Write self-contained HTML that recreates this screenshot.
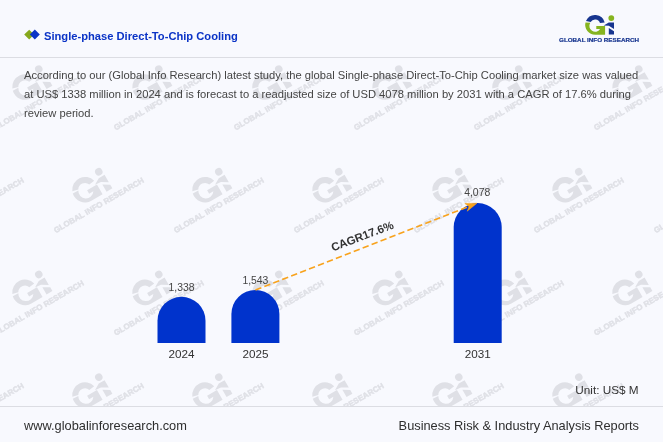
<!DOCTYPE html>
<html><head><meta charset="utf-8">
<style>
html,body{margin:0;padding:0;}
body{width:663px;height:442px;background:#f8f9fe;position:relative;overflow:hidden;font-family:"Liberation Sans",sans-serif;color:#333;}
.abs{position:absolute;white-space:nowrap;}
#title{left:44px;top:29px;font-size:11.16px;font-weight:bold;color:#0a33c6;line-height:14px;}
#para{left:24px;top:65.9px;width:625px;font-size:11.2px;line-height:19.04px;color:#444;white-space:normal;}
.hr{position:absolute;left:0;width:663px;height:1px;background:#dcdde3;}
#foot1{left:24px;top:419px;font-size:12.8px;line-height:14px;color:#2e2e2e;}
#foot2{right:24px;top:419px;font-size:12.8px;line-height:14px;color:#2e2e2e;}
svg text{font-family:"Liberation Sans",sans-serif;}
</style></head><body>
<svg class="abs" style="left:0;top:0" width="663" height="442" viewBox="0 0 663 442">
  <defs>
    <g id="wm"><path d="M -9.11 -3.87 A 9.9 9.9 0 0 1 9.61 -2.40 L 4.89 -1.78 A 5.2 5.2 0 0 0 -4.46 -2.68 Z" fill="#dfe0e6"/><path d="M -9.65 -2.23 A 9.9 9.9 0 0 0 0.00 9.90 L 10 9.9 L 10 1.2 L 1.2 1.2 L 1.2 4.3 L 5.0 4.3 A 5.2 5.2 0 0 1 -4.79 -2.03 Z" fill="#dfe0e6"/><circle cx="16.2" cy="-6.7" r="2.9" fill="#dfe0e6"/><path d="M 13.7 -2.4 L 18.9 -2.4 L 18.9 4.2 L 13.7 1.0 L 8.6 0.6 Z" fill="#dfe0e6"/><path d="M 13.7 3.2 L 18.9 6.4 L 18.9 9.7 L 13.7 9.7 Z" fill="#dfe0e6"/><text x="3.2" y="17.8" font-size="6.0" font-weight="bold" text-anchor="middle" textLength="79.5" lengthAdjust="spacingAndGlyphs" fill="#dfe0e6" stroke="#dfe0e6" stroke-width="0.3">GLOBAL INFO RESEARCH</text></g>
    <clipPath id="wmclip"><rect x="0" y="58" width="663" height="348"/></clipPath>
  </defs>
  <g clip-path="url(#wmclip)"><use href="#wm" transform="translate(25.0,87.0) rotate(-30) scale(1.29)"/><use href="#wm" transform="translate(145.0,87.0) rotate(-30) scale(1.29)"/><use href="#wm" transform="translate(265.0,87.0) rotate(-30) scale(1.29)"/><use href="#wm" transform="translate(385.0,87.0) rotate(-30) scale(1.29)"/><use href="#wm" transform="translate(505.0,87.0) rotate(-30) scale(1.29)"/><use href="#wm" transform="translate(625.0,87.0) rotate(-30) scale(1.29)"/><use href="#wm" transform="translate(745.0,87.0) rotate(-30) scale(1.29)"/><use href="#wm" transform="translate(-35.0,189.7) rotate(-30) scale(1.29)"/><use href="#wm" transform="translate(85.0,189.7) rotate(-30) scale(1.29)"/><use href="#wm" transform="translate(205.0,189.7) rotate(-30) scale(1.29)"/><use href="#wm" transform="translate(325.0,189.7) rotate(-30) scale(1.29)"/><use href="#wm" transform="translate(445.0,189.7) rotate(-30) scale(1.29)"/><use href="#wm" transform="translate(565.0,189.7) rotate(-30) scale(1.29)"/><use href="#wm" transform="translate(685.0,189.7) rotate(-30) scale(1.29)"/><use href="#wm" transform="translate(25.0,292.4) rotate(-30) scale(1.29)"/><use href="#wm" transform="translate(145.0,292.4) rotate(-30) scale(1.29)"/><use href="#wm" transform="translate(265.0,292.4) rotate(-30) scale(1.29)"/><use href="#wm" transform="translate(385.0,292.4) rotate(-30) scale(1.29)"/><use href="#wm" transform="translate(505.0,292.4) rotate(-30) scale(1.29)"/><use href="#wm" transform="translate(625.0,292.4) rotate(-30) scale(1.29)"/><use href="#wm" transform="translate(745.0,292.4) rotate(-30) scale(1.29)"/><use href="#wm" transform="translate(-35.0,395.1) rotate(-30) scale(1.29)"/><use href="#wm" transform="translate(85.0,395.1) rotate(-30) scale(1.29)"/><use href="#wm" transform="translate(205.0,395.1) rotate(-30) scale(1.29)"/><use href="#wm" transform="translate(325.0,395.1) rotate(-30) scale(1.29)"/><use href="#wm" transform="translate(445.0,395.1) rotate(-30) scale(1.29)"/><use href="#wm" transform="translate(565.0,395.1) rotate(-30) scale(1.29)"/><use href="#wm" transform="translate(685.0,395.1) rotate(-30) scale(1.29)"/></g>
  <!-- header icon -->
  <polygon points="24.2,34.6 29.2,29.8 34.2,34.6 29.2,39.4" fill="#86a81c"/>
  <polygon points="29.8,34.5 34.8,29.4 39.8,34.5 34.8,39.6" fill="#0a33c6"/>
  <!-- header logo -->
  <g transform="translate(595.1,24.8)"><path d="M -9.11 -3.87 A 9.9 9.9 0 0 1 9.61 -2.40 L 4.89 -1.78 A 5.2 5.2 0 0 0 -4.46 -2.68 Z" fill="#17358f"/><path d="M -9.65 -2.23 A 9.9 9.9 0 0 0 0.00 9.90 L 10 9.9 L 10 1.2 L 1.2 1.2 L 1.2 4.3 L 5.0 4.3 A 5.2 5.2 0 0 1 -4.79 -2.03 Z" fill="#86b41f"/><circle cx="16.2" cy="-6.7" r="2.9" fill="#86b41f"/><path d="M 13.7 -2.4 L 18.9 -2.4 L 18.9 4.2 L 13.7 1.0 L 8.6 0.6 Z" fill="#17358f"/><path d="M 13.7 3.2 L 18.9 6.4 L 18.9 9.7 L 13.7 9.7 Z" fill="#17358f"/><text x="3.9" y="16.9" font-size="6.0" font-weight="bold" text-anchor="middle" textLength="80" lengthAdjust="spacingAndGlyphs" fill="#17358f" stroke="#17358f" stroke-width="0.2">GLOBAL INFO RESEARCH</text></g>
  <!-- bars -->
  <g fill="#0033cc">
    <path d="M157.5 343 V320.8 A24 24 0 0 1 205.5 320.8 V343 Z"/>
    <path d="M231.4 343 V314 A24 24 0 0 1 279.4 314 V343 Z"/>
    <path d="M453.7 343 V227.1 A24 24 0 0 1 501.7 227.1 V343 Z"/>
  </g>
  <!-- arrow -->
  <line x1="255.4" y1="290" x2="470.5" y2="205.8" stroke="#f8a31d" stroke-width="1.6" stroke-dasharray="6.4 3.2"/>
  <path d="M477 203.2 L464.8 203.5 L469 206.5 L467.2 211.2 Z" fill="#f8a31d" stroke="#f8a31d" stroke-width="0.5" stroke-linejoin="round"/>
  <text transform="translate(363.7,239.8) rotate(-20.8)" text-anchor="middle" font-size="11.4" font-weight="bold" fill="#333">CAGR17.6%</text>
  <!-- labels -->
  <g font-size="10.4" fill="#444" text-anchor="middle">
    <text x="181.6" y="290.8">1,338</text>
    <text x="255.4" y="283.9">1,543</text>
    <text x="477.2" y="196">4,078</text>
  </g>
  <g font-size="11.7" fill="#333" text-anchor="middle">
    <text x="181.5" y="357.9">2024</text>
    <text x="255.4" y="357.9">2025</text>
    <text x="477.7" y="357.9">2031</text>
  </g>
  <text x="638.6" y="393.6" font-size="11.75" fill="#333" text-anchor="end">Unit: US$ M</text>
</svg>
<div class="abs" id="title">Single-phase Direct-To-Chip Cooling</div>
<div class="hr" style="top:57px"></div>
<div class="abs" id="para">According to our (Global Info Research) latest study, the global Single-phase Direct-To-Chip Cooling market size was valued at US$ 1338 million in 2024 and is forecast to a readjusted size of USD 4078 million by 2031 with a CAGR of 17.6% during review period.</div>
<div class="hr" style="top:406px"></div>
<div class="abs" id="foot1">www.globalinforesearch.com</div>
<div class="abs" id="foot2">Business Risk &amp; Industry Analysis Reports</div>
</body></html>
